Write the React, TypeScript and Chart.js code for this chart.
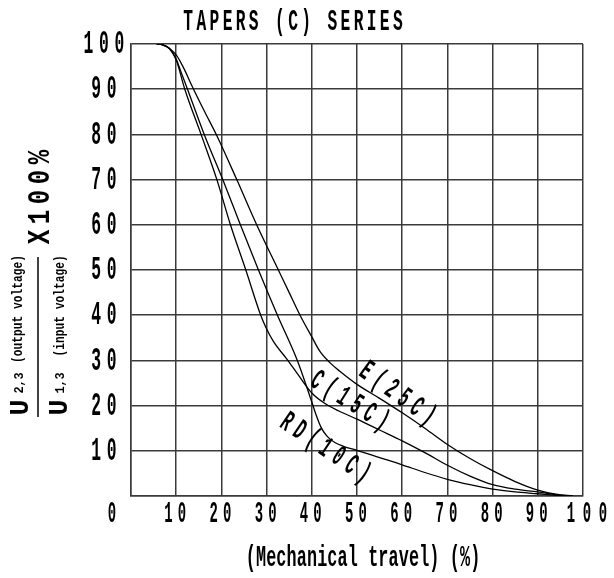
import React, { useEffect, useRef } from 'react';
import { Chart, registerables } from 'chart.js';

Chart.register(...registerables);

// ---- text ----
const chartTitle = 'TAPERS (C) SERIES';
const xAxisTitle = '(Mechanical travel) (%)';
const yTitleMain = 'X100%';
const yTitleNumerSub = '2,3';
const yTitleNumerText = '(output voltage)';
const yTitleDenomSub = '1,3';
const yTitleDenomText = '(input voltage)';

// ---- ticks ----
const xTickValues = [0, 10, 20, 30, 40, 50, 60, 70, 80, 90, 100];
const yTickValues = [10, 20, 30, 40, 50, 60, 70, 80, 90, 100];

// ---- series: mechanical travel (%) vs output ratio (%) ----
const seriesNames = ['E(25C)', 'C(15C)', 'RD(10C)'];

const travelE = [5.7, 7, 8.5, 10, 11.5, 13.6, 16.3, 19.1, 23.4, 27.8, 32.6, 35, 37.4, 40, 41.8, 44, 46.2, 50, 55, 60, 65, 70, 75, 80, 85, 90, 94, 97.8];
const outputE = [100, 99.8, 99, 97.6, 95, 90.5, 85, 79.5, 70, 60, 50, 45, 40, 35.2, 32, 29.5, 27.6, 24.7, 21.6, 18.4, 15, 11.4, 8.3, 5.6, 3.2, 1.3, 0.4, 0];

const travelC = [5.7, 7, 8.5, 10, 11.9, 15.5, 19, 22, 25.4, 28.7, 29.8, 31.5, 34.4, 37, 40, 43, 46, 50, 55, 60, 65, 70, 75, 80, 85, 90, 94, 97.5];
const outputC = [100, 99.8, 99, 96.5, 90, 80, 70, 60, 50, 40, 37.4, 34.2, 30.4, 26.8, 22.8, 20.4, 18.8, 17, 14.6, 12.2, 9.6, 6.8, 4.4, 2.5, 1.5, 0.9, 0.3, 0];

const travelRD = [5.7, 7, 8.5, 10, 11, 12.5, 16.2, 20.3, 24.2, 28.2, 32.4, 36.8, 40, 41, 42, 43.3, 45, 47, 50, 55, 60, 65, 70, 75, 80, 85, 90, 94, 97];
const outputRD = [100, 99.8, 99, 96.6, 94, 90, 80, 70, 60, 50, 40, 30, 20.8, 17.8, 15.3, 13.3, 11.9, 11, 10.1, 8.5, 6.9, 5.2, 3.7, 2.5, 1.5, 0.9, 0.5, 0.15, 0];

// curve label anchors (data coordinates) and angles (deg)
const labelAnchorX = [59.1, 48.5, 43.1];
const labelAnchorY = [22.8, 21.2, 10.8];
const labelAngle = [36, 32, 34];

const FONT = "'Liberation Mono', 'DejaVu Sans Mono', monospace";
const INK = '#000';
const GRID = '#3a3a3a';

function drawSpaced(
  ctx: CanvasRenderingContext2D,
  text: string,
  cx: number,
  cy: number,
  size: number,
  pitch: number,
  sx: number,
  angle = 0,
) {
  ctx.save();
  ctx.translate(cx, cy);
  if (angle) ctx.rotate((angle * Math.PI) / 180);
  ctx.scale(sx, 1);
  ctx.font = `bold ${size}px ${FONT}`;
  (ctx as any).letterSpacing = '0px';
  const adv = ctx.measureText('M').width;
  const step = pitch / sx;
  (ctx as any).letterSpacing = `${step - adv}px`;
  ctx.textBaseline = 'alphabetic';
  ctx.textAlign = 'left';
  const n = Array.from(text).length;
  const total = (n - 1) * step + adv;
  ctx.fillStyle = INK;
  ctx.fillText(text, -total / 2, size * 0.3);
  ctx.restore();
}

const textPlugin = {
  id: 'taperTexts',
  afterDraw(chart: any) {
    const ctx: CanvasRenderingContext2D = chart.ctx;
    const xs = chart.scales.x;
    const ys = chart.scales.y;

    // title
    drawSpaced(ctx, chartTitle, 293, 21.5, 29, 13.1, 0.56);

    // y tick labels
    yTickValues.forEach((v) => {
      drawSpaced(ctx, String(v), xs.left - 27, ys.getPixelForValue(v) - 1, 34, 15.5, 0.48);
    });

    // x tick labels
    xTickValues.forEach((v, i) => {
      let off = 0;
      if (i === 0) off = -18;
      if (i === xTickValues.length - 1) off = 5;
      const pitch = String(v).length > 2 ? 16 : 13.5;
      drawSpaced(ctx, String(v), xs.getPixelForValue(v) - 1 + off, ys.bottom + 17, 29, pitch, 0.48);
    });

    // x axis title
    drawSpaced(ctx, xAxisTitle, 363, 557, 30, 10.2, 0.56);

    // y axis title (rotated, fraction)
    drawSpaced(ctx, yTitleMain, 39, 197, 32, 20, 0.75, -90);
    drawSpaced(ctx, 'U', 20, 407.5, 28, 16, 0.95, -90);
    drawSpaced(ctx, yTitleNumerSub, 19.5, 383, 12, 7, 1, -90);
    drawSpaced(ctx, yTitleNumerText, 17.5, 309, 14, 6.75, 0.8, -90);
    drawSpaced(ctx, 'U', 58.5, 407.5, 28, 16, 0.95, -90);
    drawSpaced(ctx, yTitleDenomSub, 60, 383, 12, 7, 1, -90);
    drawSpaced(ctx, yTitleDenomText, 59.5, 306, 14, 6.75, 0.8, -90);
    ctx.save();
    ctx.strokeStyle = INK;
    ctx.lineWidth = 1.5;
    ctx.beginPath();
    ctx.moveTo(38, 257);
    ctx.lineTo(38, 417);
    ctx.stroke();
    ctx.restore();

    // curve labels
    seriesNames.forEach((name, i) => {
      const px = xs.getPixelForValue(labelAnchorX[i]);
      const py = ys.getPixelForValue(labelAnchorY[i]);
      drawSpaced(ctx, name, px, py, 30, 15.5, 0.5, labelAngle[i]);
    });
  },
};

function toPoints(xs: number[], ys: number[]) {
  return xs.map((x, i) => ({ x, y: ys[i] }));
}

export default function App() {
  const canvasRef = useRef<HTMLCanvasElement | null>(null);

  useEffect(() => {
    if (!canvasRef.current) return;
    const lineStyle = {
      borderColor: INK,
      borderWidth: 1.3,
      pointRadius: 0,
      fill: false,
      cubicInterpolationMode: 'monotone' as const,
    };
    const chart = new Chart(canvasRef.current, {
      type: 'line',
      data: {
        datasets: [
          { label: seriesNames[0], data: toPoints(travelE, outputE), ...lineStyle },
          { label: seriesNames[1], data: toPoints(travelC, outputC), ...lineStyle },
          { label: seriesNames[2], data: toPoints(travelRD, outputRD), ...lineStyle },
        ],
      },
      options: {
        responsive: false,
        animation: false,
        layout: { padding: { left: 131, right: 31, top: 44, bottom: 82 } },
        plugins: {
          legend: { display: false },
          tooltip: { enabled: false },
          title: { display: false },
        },
        scales: {
          x: {
            type: 'linear',
            min: 0,
            max: 100,
            ticks: { display: false, stepSize: 10 },
            grid: { color: GRID, lineWidth: 1.5, drawTicks: false },
            border: { display: true, color: GRID, width: 1.5 },
          },
          y: {
            type: 'linear',
            min: 0,
            max: 100,
            ticks: { display: false, stepSize: 10 },
            grid: { color: GRID, lineWidth: 1.5, drawTicks: false },
            border: { display: true, color: GRID, width: 1.5 },
          },
        },
      },
      plugins: [textPlugin],
    });
    return () => chart.destroy();
  }, []);

  return (
    <div style={{ position: 'absolute', left: 0, top: 0, width: 614, height: 578, background: '#fff' }}>
      <canvas ref={canvasRef} width={614} height={578} style={{ width: 614, height: 578, display: 'block' }} />
    </div>
  );
}
